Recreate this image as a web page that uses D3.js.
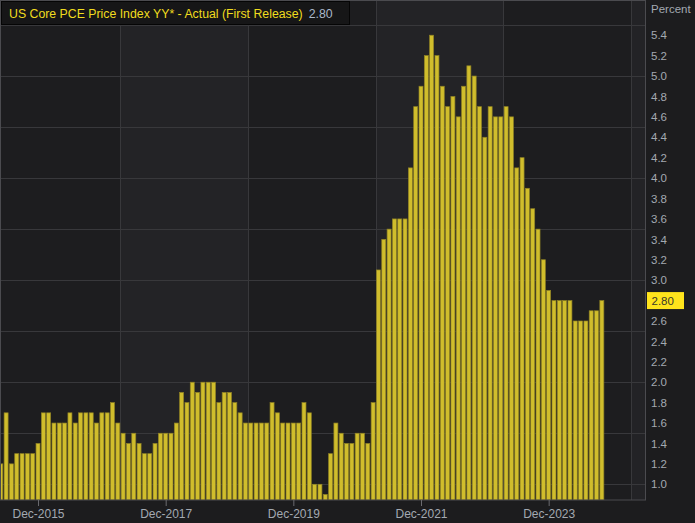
<!DOCTYPE html>
<html>
<head>
<meta charset="utf-8">
<script src="https://cdn.jsdelivr.net/npm/d3@7"></script>
<style>
  html, body { margin: 0; padding: 0; background: #1c1c1e; }
  svg { display: block; }
</style>
</head>
<body>
<svg id="chart" width="695" height="523"></svg>
<script>
// ---------------- DATA ----------------
const seriesName = "US Core PCE Price Index YY* - Actual (First Release)";
const lastValueLabel = "2.80";
const unitLabel = "Percent";
const firstMonth = [2015, 4]; // May 2015 (year, zero-based month)
// Monthly values, May 2015 .. Oct 2024
const values = [
  1.2, 1.7, 1.2, 1.3, 1.3, 1.3, 1.3, 1.4,                   // 2015 (May-Dec)
  1.7, 1.7, 1.6, 1.6, 1.6, 1.7, 1.6, 1.7, 1.7, 1.7, 1.6, 1.7, // 2016
  1.7, 1.8, 1.6, 1.5, 1.4, 1.5, 1.4, 1.3, 1.3, 1.4, 1.5, 1.5, // 2017
  1.5, 1.6, 1.9, 1.8, 2.0, 1.9, 2.0, 2.0, 2.0, 1.8, 1.9, 1.9, // 2018
  1.8, 1.7, 1.6, 1.6, 1.6, 1.6, 1.6, 1.8, 1.7, 1.6, 1.6, 1.6, // 2019
  1.6, 1.8, 1.7, 1.0, 1.0, 0.9, 1.3, 1.6, 1.5, 1.4, 1.4, 1.5, // 2020
  1.5, 1.4, 1.8, 3.1, 3.4, 3.5, 3.6, 3.6, 3.6, 4.1, 4.7, 4.9, // 2021
  5.2, 5.4, 5.2, 4.9, 4.7, 4.8, 4.6, 4.9, 5.1, 5.0, 4.7, 4.4, // 2022
  4.7, 4.6, 4.6, 4.7, 4.6, 4.1, 4.2, 3.9, 3.7, 3.5, 3.2, 2.9, // 2023
  2.8, 2.8, 2.8, 2.8, 2.6, 2.6, 2.6, 2.7, 2.7, 2.8            // 2024 (Jan-Oct)
];
const xTickLabels = ["Dec-2015", "Dec-2017", "Dec-2019", "Dec-2021", "Dec-2023"];
const yTickValues = [1.0, 1.2, 1.4, 1.6, 1.8, 2.0, 2.2, 2.4, 2.6, 3.0, 3.2, 3.4, 3.6, 3.8, 4.0, 4.2, 4.4, 4.6, 4.8, 5.0, 5.2, 5.4];
const yGridValues = [1.0, 1.5, 2.0, 2.5, 3.0, 3.5, 4.0, 4.5, 5.0, 5.5];

// ---------------- BUILD ----------------
const months = values.map((v, i) => new Date(firstMonth[0], firstMonth[1] + i, 1));
const fmt = d3.timeFormat("%b-%Y");
const data = months.map((m, i) => ({ i, label: fmt(m), value: values[i] }));
const tickIdx = xTickLabels.map(l => data.find(d => d.label === l).i);
// vertical grid lines fall between Mar and Apr of odd years
const vGridIdx = [2017, 2019, 2021, 2023, 2025].map(yr =>
  (yr - firstMonth[0]) * 12 + (3 - firstMonth[1]) - 0.5);

const plot = { left: 1, right: 646, top: 0, bottom: 500 };

const x = d3.scaleLinear().domain([0.04, 121.3]).range([plot.left, plot.right]);
const y = d3.scaleLinear().domain([0.846, 5.745]).range([plot.bottom, plot.top]);

const svg = d3.select("#chart");
svg.append("rect").attr("width", 695).attr("height", 523).attr("fill", "#1c1c1e");

svg.append("defs").append("clipPath").attr("id", "clip")
  .append("rect").attr("x", plot.left).attr("y", plot.top)
  .attr("width", plot.right - plot.left).attr("height", plot.bottom - plot.top);

// alternating background bands
const bandEdges = [x.domain()[0], ...vGridIdx.filter(v => x(v) < plot.right), x.domain()[1]];
const bands = d3.pairs(bandEdges).map((p, k) => ({ a: p[0], b: p[1], k }));
const g = svg.append("g").attr("clip-path", "url(#clip)");
g.selectAll("rect.band").data(bands).join("rect")
  .attr("class", "band")
  .attr("x", d => x(d.a)).attr("y", plot.top)
  .attr("width", d => x(d.b) - x(d.a)).attr("height", plot.bottom - plot.top)
  .attr("fill", d => d.k % 2 === 0 ? "#1d1d1f" : "#232326");

// grid
g.selectAll("line.hg").data(yGridValues).join("line")
  .attr("x1", plot.left).attr("x2", plot.right)
  .attr("y1", d => Math.round(y(d)) + 0.5).attr("y2", d => Math.round(y(d)) + 0.5)
  .attr("stroke", "#38383b").attr("stroke-width", 1);
g.selectAll("line.vg").data(vGridIdx.filter(v => x(v) < plot.right)).join("line")
  .attr("x1", d => Math.round(x(d)) + 0.5).attr("x2", d => Math.round(x(d)) + 0.5)
  .attr("y1", plot.top).attr("y2", plot.bottom)
  .attr("stroke", "#38383b").attr("stroke-width", 1);

// bars
const barW = 4;
g.selectAll("rect.bar").data(data).join("rect")
  .attr("class", "bar")
  .attr("x", d => x(d.i) - barW / 2)
  .attr("y", d => y(d.value))
  .attr("width", barW)
  .attr("height", d => plot.bottom - y(d.value))
  .attr("fill", "#d0bd2c")
  .attr("stroke", "#8f8224")
  .attr("stroke-width", 0.7);

// frame
svg.append("rect")
  .attr("x", plot.left - 0.5).attr("y", plot.top + 0.5)
  .attr("width", plot.right - plot.left).attr("height", plot.bottom - plot.top - 0.5)
  .attr("fill", "none").attr("stroke", "#4b4b4f").attr("stroke-width", 1);

// x axis
const xAxis = d3.axisBottom(x).tickValues(tickIdx)
  .tickFormat((d, k) => xTickLabels[k]).tickSize(6).tickPadding(3);
const xg = svg.append("g").attr("transform", `translate(0,${plot.bottom})`).call(xAxis);
xg.select(".domain").remove();
xg.selectAll(".tick line").attr("stroke", "#6b6b70");
xg.selectAll(".tick text").attr("fill", "#a3a9b1")
  .style("font-family", "'Liberation Sans', Arial, sans-serif").style("font-size", "12px");

// y axis on right
const yAxis = d3.axisRight(y).tickValues(yTickValues)
  .tickFormat(d3.format(".1f")).tickSize(0).tickPadding(5);
const yg = svg.append("g").attr("transform", `translate(${plot.right},0)`).call(yAxis);
yg.select(".domain").remove();
yg.selectAll(".tick text").attr("fill", "#a3a9b1")
  .style("font-family", "'Liberation Sans', Arial, sans-serif").style("font-size", "11.5px");

svg.append("text").attr("x", 651).attr("y", 13)
  .attr("fill", "#a3a9b1")
  .style("font-family", "'Liberation Sans', Arial, sans-serif").style("font-size", "11.5px")
  .text(unitLabel);

// last value marker
const lastVal = values[values.length - 1];
const ly = y(lastVal);
svg.append("rect").attr("x", 647).attr("y", ly - 8.5).attr("width", 37).attr("height", 17)
  .attr("fill", "#ffe41c");
svg.append("text").attr("x", 651.5).attr("y", ly).attr("dy", "0.35em")
  .attr("fill", "#3a3a2a")
  .style("font-family", "'Liberation Sans', Arial, sans-serif").style("font-size", "11.5px")
  .text(lastValueLabel);

// legend box
svg.append("rect").attr("x", 1.5).attr("y", 1.5).attr("width", 348).attr("height", 23)
  .attr("fill", "#161617").attr("stroke", "#050505").attr("stroke-width", 1);
const lt = svg.append("text").attr("x", 9).attr("y", 17.5)
  .style("font-family", "'Liberation Sans', Arial, sans-serif").style("font-size", "12.3px");
lt.append("tspan").attr("fill", "#f0dc1e").text(seriesName);
lt.append("tspan").attr("fill", "#aab8c9").attr("dx", 6).text(lastValueLabel);
</script>
</body>
</html>
